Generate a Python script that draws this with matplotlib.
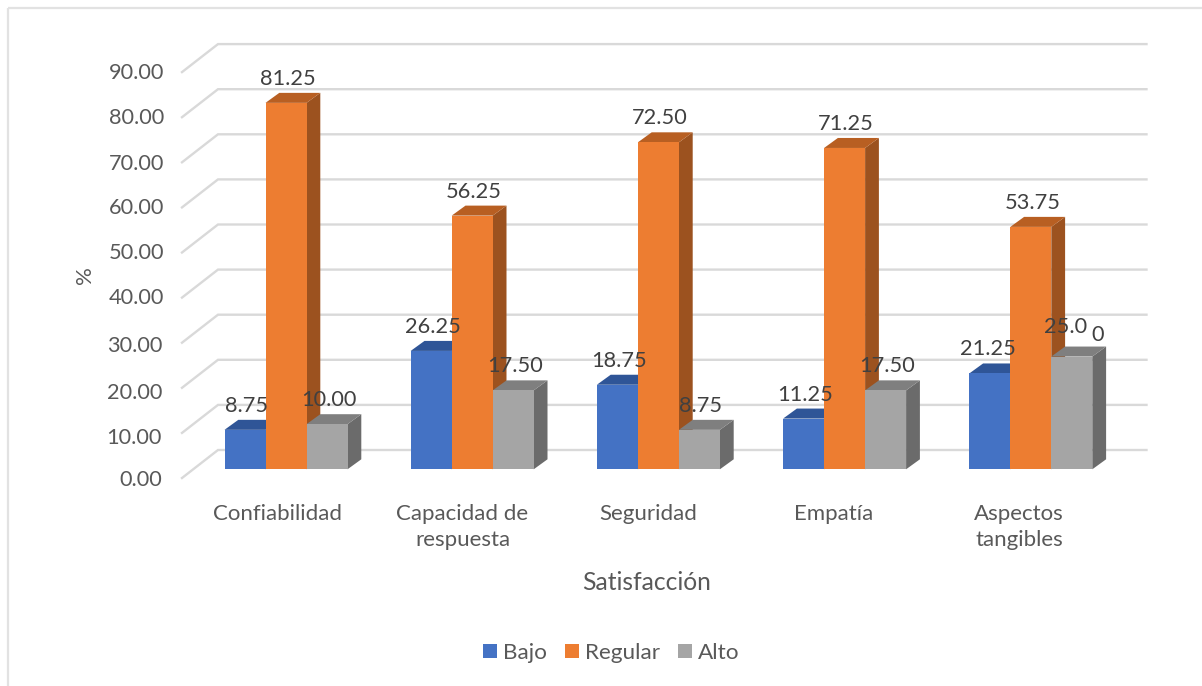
import matplotlib
matplotlib.use("Agg")
import matplotlib.pyplot as plt
from matplotlib.patches import Polygon, Rectangle

plt.rcParams["font.family"] = ["Lato", "DejaVu Sans"]

categories = ["Confiabilidad", "Capacidad de\nrespuesta", "Seguridad", "Empatía", "Aspectos\ntangibles"]
bajo = [8.75, 26.25, 18.75, 11.25, 21.25]
regular = [81.25, 56.25, 72.50, 71.25, 53.75]
alto = [10.00, 17.50, 8.75, 17.50, 25.00]
series_names = ["Bajo", "Regular", "Alto"]
tick_values = [0, 10, 20, 30, 40, 50, 60, 70, 80, 90]
# Vertical pixel rows of the value-axis labels
tick_rows = [480, 438, 393, 346, 298, 253, 208, 164, 118, 73]

W, H = 1202, 686
PX_PER_CAT = 186.2
PX_PER_UNIT = 4.51
X0_PX, Y0_PX = 286.0, 469.3

fig = plt.figure(figsize=(W / 100, H / 100), dpi=100, facecolor="white")
ax = fig.add_axes([0, 0, 1, 1])
# Data axes: x in category units, y in percent, laid over the whole canvas
ax.set_xlim(-X0_PX / PX_PER_CAT, (W - X0_PX) / PX_PER_CAT)
ax.set_ylim((Y0_PX - H) / PX_PER_UNIT, Y0_PX / PX_PER_UNIT)
ax.axis("off")

dxu = lambda px: px / PX_PER_CAT
dyu = lambda px: px / PX_PER_UNIT
col = lambda px: dxu(px - X0_PX)
row = lambda px: dyu(Y0_PX - px)

TEXT = "#404040"
SOFT = "#595959"
GRID = "#D9D9D9"

# Outer frame of the chart area: top and left edges only
for xs, ys in [((8, W), (7.5, 7.5)), ((8, 8), (7.5, H))]:
    ax.plot([col(x) for x in xs], [row(y) for y in ys],
            color="#E2E2E2", lw=1.6, solid_capstyle="butt", zorder=1)

# Back-wall gridlines with their diagonal on the side wall
WALL_L, WALL_R, BACK_DY, SIDE_DX = col(218), col(1146.5), dyu(19.3), dxu(36)
WALL_DROP = dyu(28)
for v in tick_values:
    y = v + BACK_DY
    ax.plot([WALL_L - SIDE_DX, WALL_L, WALL_R], [y - WALL_DROP, y, y],
            color=GRID, lw=1.7, solid_joinstyle="miter", zorder=1)

# Extruded bars: front face, top and right side
BAR_W = dxu(41)
DEPTH_X, DEPTH_Y = dxu(13.8), dyu(10)
palette = [("#4472C4", "#2F5597", "#2F5597"),
           ("#ED7D31", "#B85F22", "#9C521F"),
           ("#A5A5A5", "#7F7F7F", "#6B6B6B")]
z = 3
for i in range(len(categories)):
    for s, values in enumerate([bajo, regular, alto]):
        left = i + (s - 1.5) * BAR_W
        v = values[i]
        front, top, side = palette[s]
        ax.add_patch(Polygon([(left + BAR_W, 0), (left + BAR_W + DEPTH_X, DEPTH_Y),
                              (left + BAR_W + DEPTH_X, v + DEPTH_Y), (left + BAR_W, v)],
                             closed=True, fc=side, ec="none", zorder=z))
        ax.add_patch(Polygon([(left, v), (left + DEPTH_X, v + DEPTH_Y),
                              (left + BAR_W + DEPTH_X, v + DEPTH_Y), (left + BAR_W, v)],
                             closed=True, fc=top, ec="none", zorder=z))
        ax.add_patch(Rectangle((left, 0), BAR_W, v, fc=front, ec="none", zorder=z))
        z += 1

# Value labels above each bar
LABEL_GAP = dyu(24)
LABEL_FS = 15.7
for s, values in enumerate([bajo, regular, alto]):
    for i, v in enumerate(values):
        cx = i + (s - 1) * BAR_W + dxu(1.5)
        if s == 2 and i == 4:
            # The last label breaks over its final digit
            text = f"{v:.2f}"
            ax.text(col(1066), v + dyu(30), text[:-1], ha="center", va="center",
                    fontsize=LABEL_FS, color=TEXT, zorder=50)
            ax.text(col(1098), v + dyu(22), text[-1], ha="center", va="center",
                    fontsize=LABEL_FS, color=TEXT, zorder=50)
        else:
            if s == 0 and i == 4:
                cx -= dxu(3)
            ax.text(cx, v + LABEL_GAP, f"{v:.2f}", ha="center", va="center",
                    fontsize=LABEL_FS, color=TEXT, zorder=50)

# Value-axis tick labels
for v, r in zip(tick_values, tick_rows):
    ax.text(col(164 if v >= 40 else 162), row(r), f"{v:.2f}",
            ha="right", va="center", fontsize=15.7, color=SOFT)

# Category labels
for i, name in enumerate(categories):
    ax.text(col(277 + 185.5 * i), row(504.5), name, ha="center", va="top",
            fontsize=16, color=SOFT, linespacing=1.375)

# Axis titles
ax.text(col(85), row(275), "%", rotation=90, ha="center", va="center",
        fontsize=16, color=SOFT)
ax.text(col(647), row(583), "Satisfacción", ha="center", va="center",
        fontsize=17.7, color=SOFT)

# Legend
handles = [Rectangle((0, 0), 1, 1, fc=c[0], ec="none") for c in palette]
ax.legend(handles, series_names, loc="center", bbox_to_anchor=(611 / W, 1 - 653 / H),
          bbox_transform=fig.transFigure, ncol=3, frameon=False, fontsize=16.2,
          labelcolor=SOFT, handlelength=0.62, handleheight=0.62, handletextpad=0.27,
          columnspacing=0.8, borderpad=0, borderaxespad=0)

fig.savefig("out.png", dpi=100)
